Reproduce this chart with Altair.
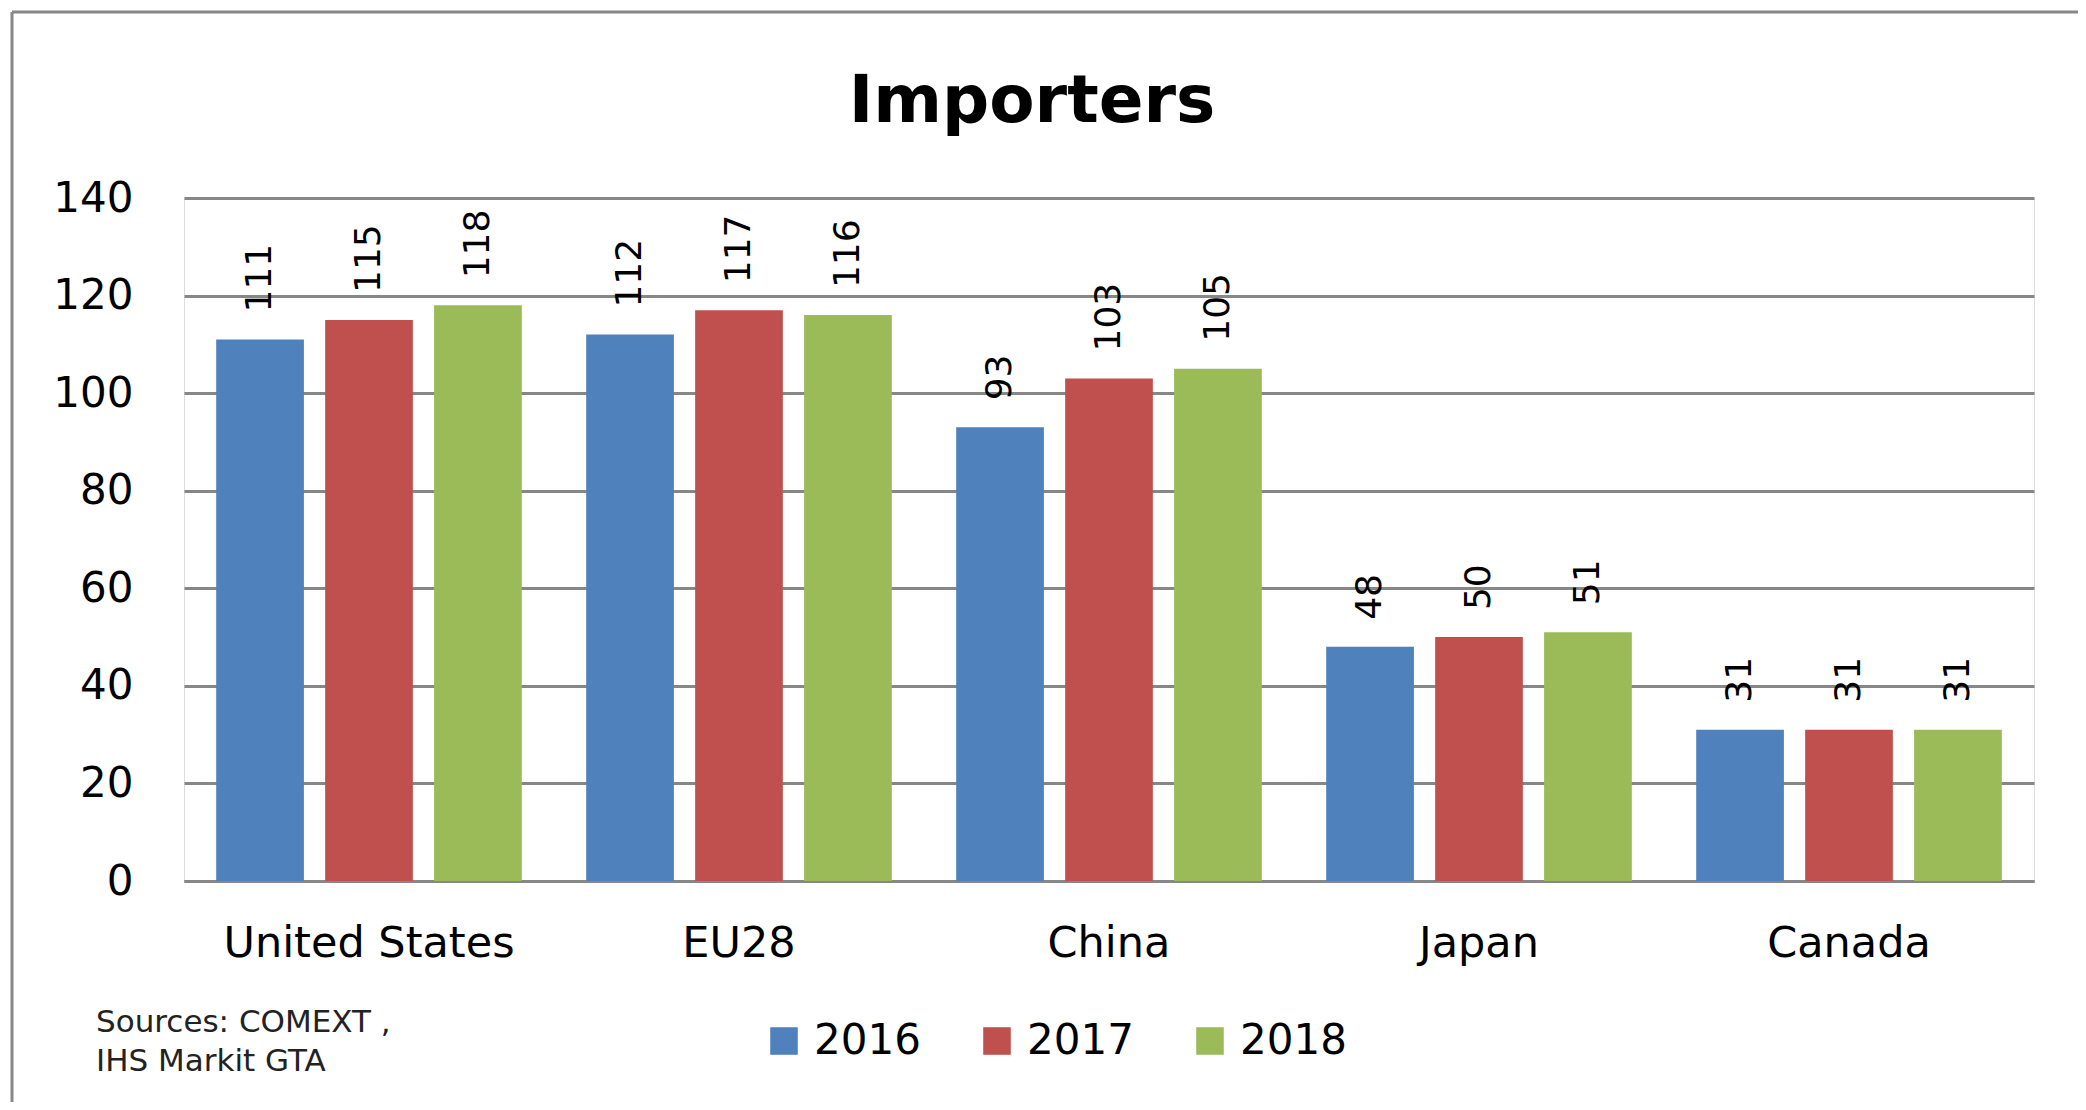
import altair as alt
import pandas as pd

countries = ["United States", "EU28", "China", "Japan", "Canada"]
years = ["2016", "2017", "2018"]
values_2016 = [111, 112, 93, 48, 31]
values_2017 = [115, 117, 103, 50, 31]
values_2018 = [118, 116, 105, 51, 31]
colors = ["#4F81BD", "#C0504D", "#9BBB59"]
y_ticks = [0, 20, 40, 60, 80, 100, 120, 140]
title_text = "Importers"
sources_lines = ["Sources: COMEXT ,", "IHS Markit GTA"]

rows = []
for yr, vals in zip(years, [values_2016, values_2017, values_2018]):
    for c, v in zip(countries, vals):
        rows.append({"country": c, "year": yr, "value": v})
df = pd.DataFrame(rows)

FONT = "DejaVu Sans"
GREY = "#878787"

x = alt.X("country:N", sort=countries,
          scale=alt.Scale(paddingInner=0.174, paddingOuter=0.087),
          axis=alt.Axis(title=None, labelAngle=0, labelFontSize=43, labelFont=FONT,
                        labelColor="#000", labelPadding=41, labelLimit=500, ticks=False,
                        domainColor=GREY, domainWidth=3))
y = alt.Y("value:Q", scale=alt.Scale(domain=[0, 140], nice=False),
          axis=alt.Axis(title=None, values=y_ticks, labelFontSize=42, labelFont=FONT,
                        labelColor="#000", labelPadding=51, ticks=False, domain=False,
                        grid=True, gridColor=GREY, gridWidth=3))
xo = alt.XOffset("year:N", sort=years, scale=alt.Scale(paddingInner=0.195, paddingOuter=0))

bars = alt.Chart(df).mark_bar().encode(
    x=x, y=y, xOffset=xo,
    color=alt.Color("year:N", sort=years,
                    scale=alt.Scale(domain=years, range=colors),
                    legend=alt.Legend(title=None, orient="none", direction="horizontal",
                                      legendX=579, legendY=822, symbolType="square",
                                      symbolSize=760, symbolStrokeWidth=0,
                                      labelFontSize=42, labelFont=FONT, labelColor="#000",
                                      labelOffset=9, columnPadding=55, padding=0)),
)

labels = alt.Chart(df).mark_text(angle=270, align="left", baseline="middle", dx=27,
                                 fontSize=36, font=FONT, color="#000").encode(
    x=alt.X("country:N", sort=countries), y="value:Q", xOffset=xo,
    text=alt.Text("value:Q"),
)

one = pd.DataFrame({"t": [0]})
sources = alt.Chart(one).mark_text(
    text=sources_lines, align="left", baseline="middle", fontSize=31, font=FONT,
    color="#222", lineHeight=39,
).encode(x=alt.value(-88), y=alt.value(825))

title = alt.Chart(one).mark_text(
    text=title_text, align="center", baseline="alphabetic", fontSize=66, font=FONT,
    fontWeight="bold", color="#000",
).encode(x=alt.value(848), y=alt.value(-76))

top_border = alt.Chart(one).mark_rule(color=GREY, strokeWidth=3).encode(
    x=alt.value(-172), x2=alt.value(1902), y=alt.value(-186))
left_border = alt.Chart(one).mark_rule(color=GREY, strokeWidth=3).encode(
    x=alt.value(-172), y=alt.value(-186), y2=alt.value(912))

chart = alt.layer(bars, labels, sources, title, top_border, left_border).properties(
    width=1850, height=683,
    padding={"left": 176, "top": 190, "right": 44, "bottom": 221},
    autosize=alt.AutoSizeParams(type="none"),
).configure_view(stroke=None).configure(background="white")

chart.save("out.html", embed_options={"renderer": "svg", "actions": False})
